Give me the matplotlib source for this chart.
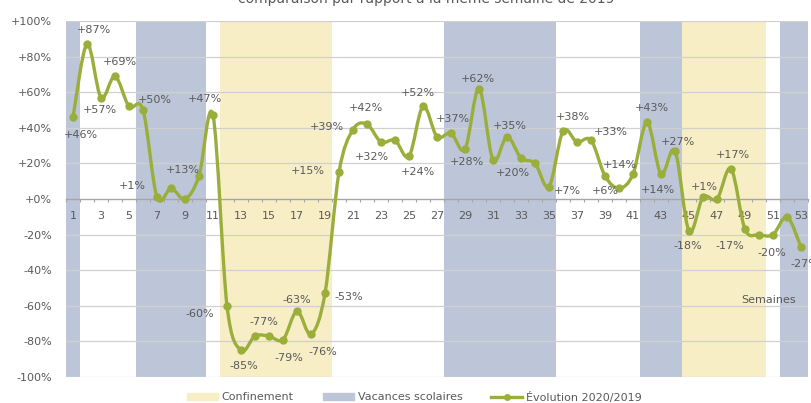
import matplotlib
matplotlib.use("Agg")
import matplotlib.pyplot as plt
from matplotlib.path import Path
from matplotlib.patches import PathPatch, Patch
from matplotlib.lines import Line2D
import numpy as np

# données
weeks = list(range(1, 54))
evolution = [46, 87, 57, 69, 52, 50, 1, 6, 0, 13,
             47, -60, -85, -77, -77, -79, -63, -76, -53, 15,
             39, 42, 32, 33, 24, 52, 35, 37, 28, 62,
             22, 35, 23, 20, 7, 38, 32, 33, 13, 6,
             14, 43, 14, 27, -18, 1, 0, 17, -17, -20,
             -20, -10, -27]
confinement_weeks = [12, 13, 14, 15, 16, 17, 18, 19, 45, 46, 47, 48, 49, 50]
vacances_weeks = [1, 6, 7, 8, 9, 10, 28, 29, 30, 31, 32, 33, 34, 35, 42, 43, 44, 52, 53]
labelled_weeks = [1, 2, 3, 4, 6, 7, 10, 11, 12, 13, 15, 16, 17, 18, 19, 20, 21, 22, 23,
                  25, 26, 28, 29, 30, 32, 34, 35, 36, 38, 40, 41, 42, 43, 44, 45, 46,
                  48, 49, 51, 53]
y_ticks = list(range(-100, 101, 20))
x_ticks = list(range(1, 54, 2))

# placement des étiquettes (pixels)
label_offsets = {
    1: (8, -18), 2: (7, 14), 3: (-1, -12), 4: (5, 14), 6: (12, 10), 7: (-25, 11),
    10: (-16, 6), 11: (-8, 16), 12: (-27, -8), 13: (3, -16), 15: (-5, 14),
    16: (6, -18), 17: (0, 11), 18: (12, -18), 19: (24, -4), 20: (-31, 1),
    21: (-26, 3), 22: (-1, 16), 23: (-9, -15), 25: (9, -16), 26: (-5, 13),
    28: (2, 14), 29: (2, -13), 30: (-1, 10), 32: (3, 11), 34: (-22, -10),
    35: (18, -4), 36: (10, 14), 38: (20, 8), 40: (-14, -3), 41: (-13, 9),
    42: (5, 14), 43: (-3, -16), 44: (3, 9), 45: (-1, -15), 46: (1, 10),
    48: (2, 14), 49: (-15, -17), 51: (-1, -18), 53: (4, -17),
}

green = "#9aae3c"
blue = "#bdc5d8"
yellow = "#f8eec6"
txt = "#595959"

plt.rcParams["font.family"] = "DejaVu Sans"
fig = plt.figure(figsize=(8.11, 4.03), dpi=100)
ax = fig.add_axes([66 / 811, 1 - 377 / 403, 742 / 811, 356 / 403])

ax.bar(confinement_weeks, [200] * len(confinement_weeks), bottom=-100, width=1.0,
       color=yellow, zorder=1)
ax.bar(vacances_weeks, [200] * len(vacances_weeks), bottom=-100, width=1.0,
       color=blue, zorder=1)

for v in y_ticks:
    if v != 0:
        ax.axhline(v, color="#d0d0d0", lw=0.9, zorder=1.5)

# courbe lissée (style Excel)
xs = np.array(weeks, dtype=float)
ys = np.array(evolution, dtype=float)
verts = [(xs[0], ys[0])]
codes = [Path.MOVETO]
n = len(xs)
for i in range(n - 1):
    p0 = i - 1 if i > 0 else i
    p3 = i + 2 if i + 2 < n else i + 1
    c1 = (xs[i] + (xs[i + 1] - xs[p0]) / 6, ys[i] + (ys[i + 1] - ys[p0]) / 6)
    c2 = (xs[i + 1] - (xs[p3] - xs[i]) / 6, ys[i + 1] - (ys[p3] - ys[i]) / 6)
    verts += [c1, c2, (xs[i + 1], ys[i + 1])]
    codes += [Path.CURVE4] * 3
ax.add_patch(PathPatch(Path(verts, codes), fill=False, edgecolor=green, lw=2.4,
                       zorder=3, capstyle="round", joinstyle="round"))
ax.plot(weeks, evolution, "o", color=green, ms=5, zorder=4)

for w in labelled_weeks:
    v = evolution[w - 1]
    dx, dy = label_offsets[w]
    ax.annotate(f"{v:+d}%", (w, v), xytext=(dx, dy), textcoords="offset pixels",
                ha="center", va="center", fontsize=8, color=txt, zorder=5,
                annotation_clip=False)

ax.set_xlim(0.5, 53.5)
ax.set_ylim(-100, 100)
ax.set_yticks(y_ticks)
ax.set_yticklabels([f"{v:+d}%" for v in y_ticks])
ax.set_xticks(x_ticks)
ax.set_xticklabels([str(w) for w in x_ticks])
ax.set_xticks(np.arange(0.5, 54, 1), minor=True)
ax.tick_params(axis="x", which="major", length=0, pad=9, labelsize=8, labelcolor=txt)
ax.tick_params(axis="x", which="minor", length=2.5, width=0.8, color="#a6a6a6")
ax.tick_params(axis="y", length=0, pad=10, labelsize=8, labelcolor=txt)
for s in ["left", "right", "top"]:
    ax.spines[s].set_visible(False)
ax.spines["bottom"].set_position(("data", 0))
ax.spines["bottom"].set_color("#a6a6a6")
ax.spines["bottom"].set_linewidth(1.0)
ax.spines["bottom"].set_zorder(2)

ax.text(0.984, 0.216, "Semaines", transform=ax.transAxes, ha="right", va="center",
        fontsize=8, color=txt)

fig.text(0.526, 1 - 3 / 403, "comparaison par rapport à la même semaine de 2019",
         ha="center", va="baseline", fontsize=10, color=txt)

handles = [Patch(color=yellow), Patch(color=blue),
           Line2D([], [], color=green, lw=2.4, marker="o", ms=4)]
fig.legend(handles, ["Confinement", "Vacances scolaires", "Évolution 2020/2019"],
           loc="center", bbox_to_anchor=(0.511, 1 - 397 / 403), ncol=3, frameon=False,
           fontsize=8, labelcolor=txt, handlelength=2.8, handleheight=0.55,
           handletextpad=0.35, columnspacing=2.6, borderpad=0)

fig.savefig("out.png", dpi=100)
